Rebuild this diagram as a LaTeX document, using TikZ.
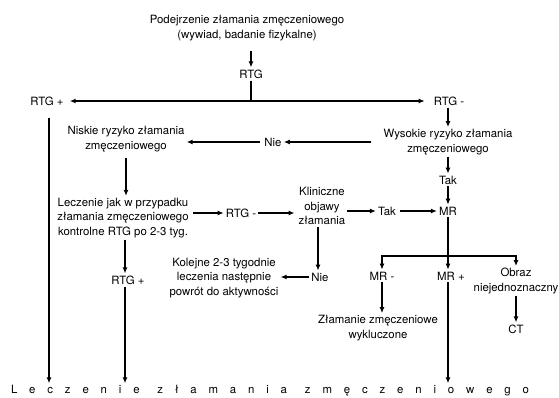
\documentclass[tikz,border=0pt]{standalone}
\usepackage{fontspec}
\setmainfont{TeX Gyre Heros}
\usetikzlibrary{arrows.meta,calc}

\begin{document}
\begin{tikzpicture}[x=1pt,y=-1pt,
  every node/.style={align=center,inner sep=2pt,font=\fontsize{11.4}{14.5}\selectfont},
  arr/.style={-{Latex[length=6pt,width=5pt]},line width=1.4pt},
  ln/.style={line width=1.4pt}]
\useasboundingbox (0,0) rectangle (559,397);
% nodes
\node (susp) at (247,28) {Podejrzenie złamania zmęczeniowego\\(wywiad, badanie fizykalne)};
\node (rtg) at (251,74) {RTG};
\node (rtgp) at (47,101) {RTG +};
\node (rtgm) at (449,101) {RTG -};
\node (high) at (448,142) {Wysokie ryzyko złamania\\zmęczeniowego};
\node (nie1) at (273,142) {Nie};
\node (low) at (126,139) {Niskie ryzyko złamania\\zmęczeniowego};
\node (tak1) at (448,180) {Tak};
\node (treat) at (123,218) {Leczenie jak w przypadku\\złamania zmęczeniowego\\kontrolne RTG po 2-3 tyg.};
\node (rtgm2) at (241,213) {RTG -};
\node (clin) at (322,206) {Kliniczne\\objawy\\złamania};
\node (tak2) at (387,211) {Tak};
\node (mr) at (448,211) {MR};
\node (nie2) at (320,277) {Nie};
\node (follow) at (224,278) {Kolejne 2-3 tygodnie\\leczenia następnie\\powrót do aktywności};
\node (rtgp2) at (128,280) {RTG +};
\node (mrm) at (382,276) {MR -};
\node (mrp) at (451,276) {MR +};
\node (unclear) at (516,281) {Obraz\\niejednoznaczny};
\node (excl) at (378,328) {Złamanie zmęczeniowe\\wykluczone};
\node (ct) at (516,329) {CT};
\node (final) at (270,391) {\makebox[518pt][s]{L e c z e n i e\hspace{6pt} z ł a m a n i a\hspace{6pt} z m ę c z e n i o w e g o}};
\coordinate (j1) at (rtg |- rtgp);
\coordinate (j2) at (448,256);
% connectors
\draw[arr] (susp.south -| rtg) ++(0,8) -- (rtg.north);
\draw[ln] (rtg.south) -- (j1);
\draw[arr,shorten >=4pt] (j1) -- (rtgp.east);
\draw[arr,shorten >=7pt] (j1) -- (rtgm.west);
\draw[arr] (rtgm.south -| high) -- (high.north);
\draw[arr,shorten <=10pt] (high.west |- nie1) -- (nie1.east);
\draw[arr,shorten <=2pt] (nie1.west) -- (low.east |- nie1);
\draw[arr] (high.south) -- (tak1.north);
\draw[arr] (tak1.south) -- (mr.north);
\draw[arr,shorten <=4pt] (low.south) -- (low.south |- treat.north);
\draw[arr,shorten <=2pt] (treat.east |- rtgm2) -- (rtgm2.west);
\draw[arr,shorten >=2pt] (rtgm2.east) -- (clin.west |- rtgm2);
\draw[arr] (clin.east |- tak2) -- (tak2.west);
\draw[arr,shorten <=2pt] (tak2.east) -- (mr.west |- tak2);
\draw[ln] (mr.south) -- (j2);
\draw[arr] (j2) -| (mrm.north);
\draw[arr] (j2) -| (unclear.north);
\draw[arr] (j2) -- (j2 |- mrp.north);
\draw[arr] (clin.south -| 318,0) -- (nie2.north -| 318,0);
\draw[arr] (nie2.west) -- (follow.east |- nie2);
\draw[arr] (treat.south -| 125,0) -- (rtgp2.north -| 125,0);
\draw[arr] (rtgp2.south -| 125,0) -- (final.north -| 125,0);
\draw[arr,shorten <=10pt] (rtgp.south -| 49,0) -- (final.north -| 49,0);
\draw[arr] (mrm.south) -- (mrm.south |- excl.north);
\draw[arr] (unclear.south) -- (ct.north);
\draw[arr] (mrp.south -| j2) -- (final.north -| j2);
\end{tikzpicture}
\end{document}
